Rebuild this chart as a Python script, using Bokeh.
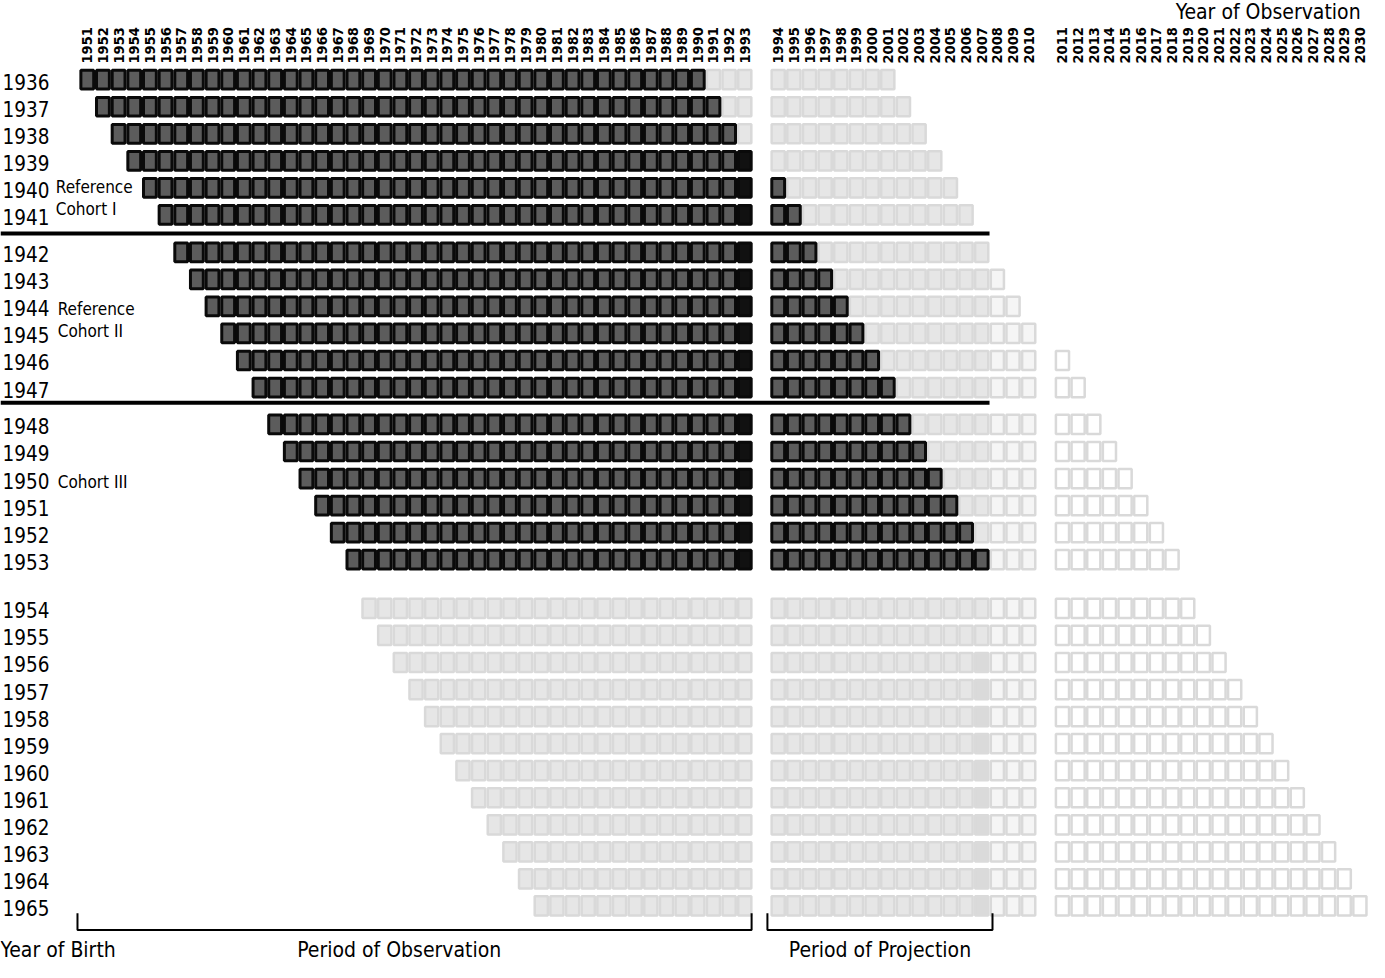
import math
from bokeh.plotting import figure
from bokeh.models import ColumnDataSource, Range1d
from bokeh.core.properties import value
from bokeh.embed import file_html
from bokeh.resources import INLINE

# ---------------- data ----------------
birth_years = [1936, 1937, 1938, 1939, 1940, 1941,
               1942, 1943, 1944, 1945, 1946, 1947,
               1948, 1949, 1950, 1951, 1952, 1953,
               1954, 1955, 1956, 1957, 1958, 1959, 1960, 1961, 1962, 1963, 1964, 1965]
# first year of observation for each birth cohort (age 15)
first_year = [1951, 1952, 1953, 1954, 1955, 1956,
              1957, 1958, 1959, 1960, 1961, 1962,
              1963, 1964, 1965, 1966, 1967, 1968,
              1969, 1970, 1971, 1972, 1973, 1974, 1975, 1976, 1977, 1978, 1979, 1980]
# last year shown for each birth cohort (age 65)
last_year = [2001, 2002, 2003, 2004, 2005, 2006,
             2007, 2008, 2009, 2010, 2011, 2012,
             2013, 2014, 2015, 2016, 2017, 2018,
             2019, 2020, 2021, 2022, 2023, 2024, 2025, 2026, 2027, 2028, 2029, 2030]
# last year actually observed (dark cells); None = not part of the study cohorts
last_observed = [1990, 1991, 1992, 1993, 1994, 1995,
                 1996, 1997, 1998, 1999, 2000, 2001,
                 2002, 2003, 2004, 2005, 2006, 2007,
                 None, None, None, None, None, None, None, None, None, None, None, None]
# cohorts whose 2007 cell is drawn solid grey
solid_2007 = [1956, 1957, 1958, 1959, 1960, 1961, 1962, 1963, 1964, 1965]

obs_years_1 = list(range(1951, 1994))
obs_years_2 = list(range(1994, 2011))
obs_years_3 = list(range(2011, 2031))
black_year = 1993
pale_years = [2008, 2009, 2010]

cohort_labels = ["Reference", "Cohort I", "Reference", "Cohort II", "Cohort III"]
separator_after = [1941, 1947]
bottom_labels = ["Year of Birth", "Period of Observation", "Period of Projection"]
top_label = "Year of Observation"

# ---------------- layout helpers ----------------
P = 15.86
FONT = "DejaVu Sans Condensed"


def col_x(year):
    if year <= 1993:
        return 80 + (year - 1951 + 0.5) * P
    if year <= 2010:
        return 780 + (year - 1994 + 0.5) * P
    return 1068 + (year - 2011 + 0.5) * P


def row_y(i):
    if i < 6:
        return 80.5 + i * 27.5
    if i < 12:
        return 256 + (i - 6) * 27.5
    if i < 18:
        return 431 + (i - 12) * 27.5
    return 618 + (i - 18) * 27.5


cats = {k: {"x": [], "y": []} for k in ["dark", "black", "light", "solid", "pale", "future"]}
for i, b in enumerate(birth_years):
    lo = last_observed[i]
    for yr in range(first_year[i], last_year[i] + 1):
        if yr >= 2011:
            c = "future"
        elif yr in pale_years:
            c = "pale"
        elif lo is not None and yr <= lo:
            c = "black" if yr == black_year else "dark"
        elif yr == 2007 and b in solid_2007:
            c = "solid"
        else:
            c = "light"
        cats[c]["x"].append(col_x(yr))
        cats[c]["y"].append(row_y(i))

p = figure(width=1369, height=962, output_backend="svg", toolbar_location=None,
           x_range=Range1d(0, 1387), y_range=Range1d(978, 0),
           min_border=0, outline_line_color=None, background_fill_color="white",
           border_fill_color="white")
p.xaxis.visible = False
p.yaxis.visible = False
p.xgrid.visible = False
p.ygrid.visible = False

styles = {
    "light": dict(fill_color="#e6e6e6", line_color="#d9d9d9", w=13.3, lw=2.5),
    "solid": dict(fill_color="#dadada", line_color="#dadada", w=13.3, lw=2.5),
    "pale": dict(fill_color="#f5f5f5", line_color="#d9d9d9", w=13.3, lw=2.5),
    "future": dict(fill_color="#ffffff", line_color="#d9d9d9", w=13.3, lw=2.5),
    "dark": dict(fill_color="#5c5c5c", line_color="#0a0a0a", w=13.0, lw=3),
    "black": dict(fill_color="#111111", line_color="#0a0a0a", w=13.0, lw=3),
}
for k, st in styles.items():
    src = ColumnDataSource(cats[k])
    p.rect(x="x", y="y", width=st["w"], height=19.5 - (st["lw"] - 2.5), source=src,
           fill_color=st["fill_color"], line_color=st["line_color"], line_width=st["lw"])

# separators
sep_y = [237, 409]
for b, ysep in zip(separator_after, sep_y):
    p.line(x=[0, col_x(2007) + P / 2], y=[ysep, ysep], line_color="black", line_width=4)

# column labels (rotated)
all_years = obs_years_1 + obs_years_2 + obs_years_3
p.text(x=[col_x(y) for y in all_years], y=[64] * len(all_years),
       text=[str(y) for y in all_years], angle=math.pi / 2,
       text_align="left", text_baseline="middle",
       text_font=value(FONT), text_font_size=value("14.5px"), text_font_style="bold",
       text_color="black")

# row labels
p.text(x=[2] * len(birth_years), y=[row_y(i) + 2 for i in range(len(birth_years))],
       text=[str(b) for b in birth_years], text_align="left", text_baseline="middle",
       text_font=value(FONT), text_font_size=value("20.5px"), text_color="black")

# cohort labels
cx = [56, 56, 58, 58, 58]
cy = [190, 212, 314, 336, 489]
p.text(x=cx, y=cy, text=cohort_labels, text_align="left", text_baseline="middle",
       text_font=value(FONT), text_font_size=value("17px"), text_color="black")

# top-right title
p.text(x=[1378], y=[12], text=[top_label], text_align="right",
       text_baseline="middle", text_font=value(FONT), text_font_size=value("21px"),
       text_color="black")

# bottom labels
p.text(x=[0], y=[965], text=[bottom_labels[0]],
       text_align="left", text_baseline="middle", text_font=value(FONT),
       text_font_size=value("21px"), text_color="black")
p.text(x=[404, 891], y=[965, 965], text=bottom_labels[1:],
       text_align="center", text_baseline="middle", text_font=value(FONT),
       text_font_size=value("21px"), text_color="black")

# brackets
yb_top, yb_bot = 928, 945
x1a, x1b = col_x(1951) - P / 2 - 2, col_x(1993) + P / 2 - 1
x2a, x2b = col_x(1994) - P / 2 - 3, col_x(2007) + P / 2 + 3
p.line(x=[x1a, x1a, x1b, x1b], y=[yb_top, yb_bot, yb_bot, yb_top], line_color="black", line_width=2)
p.line(x=[x2a, x2a, x2b, x2b], y=[yb_top, yb_bot, yb_bot, yb_top], line_color="black", line_width=2)

open("out.html", "w").write(file_html(p, INLINE))
